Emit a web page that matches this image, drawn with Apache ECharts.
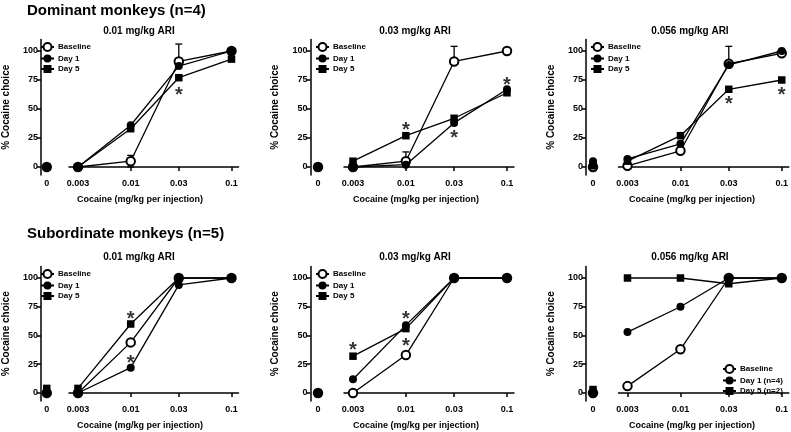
<!DOCTYPE html>
<html><head><meta charset="utf-8">
<script src="https://cdn.jsdelivr.net/npm/echarts@6/dist/echarts.min.js"></script>
<style>html,body{margin:0;padding:0;background:#fff}#c{width:791px;height:432px}</style>
</head><body><div id="c"></div>
<script>
// ---------- data ----------
const doses = [0.003, 0.01, 0.03, 0.1];
const xTickLabels = ['0.003', '0.01', '0.03', '0.1'];
const yTicks = [0, 25, 50, 75, 100];
const zeroLabel = ['0'];
const seriesNames = ['Baseline', 'Day 1', 'Day 5'];
const seriesNamesF = ['Baseline', 'Day 1 (n=4)', 'Day 5 (n=2)'];
const headings = ['Dominant monkeys (n=4)', 'Subordinate monkeys (n=5)'];
const panelTitles = ['0.01 mg/kg ARI', '0.03 mg/kg ARI', '0.056 mg/kg ARI'];
const xAxisTitle = 'Cocaine (mg/kg per injection)';
const yAxisTitle = '% Cocaine choice';

// Dominant, 0.01 mg/kg ARI   (zero values: [Baseline, Day 1, Day 5])
const domA_zero = [0, 0, 0];
const domA_base = [0, 5, 91, 100];
const domA_day1 = [0, 36, 87, 100];
const domA_day5 = [0, 33, 77, 93];
const domA_err = [[0.01, 0, 10], [0.03, 91, 106]];
const domA_stars = [[0.03, 66]];

// Dominant, 0.03 mg/kg ARI
const domB_zero = [0, 0, 0];
const domB_base = [0, 5, 91, 100];
const domB_day1 = [0, 2, 38, 67];
const domB_day5 = [5, 27, 42, 64];
const domB_err = [[0.01, 5, 13], [0.03, 91, 104]];
const domB_stars = [[0.01, 36], [0.03, 29], [0.1, 75]];

// Dominant, 0.056 mg/kg ARI
const domC_zero = [0, 5, 1];
const domC_base = [1, 14, 89, 98];
const domC_day1 = [7, 20, 88, 100];
const domC_day5 = [5, 27, 67, 75];
const domC_err = [[0.03, 89, 104]];
const domC_stars = [[0.03, 58], [0.1, 66]];

// Subordinate, 0.01 mg/kg ARI
const subD_zero = [0, 0, 4];
const subD_base = [0, 44, 100, 100];
const subD_day1 = [0, 22, 94, 100];
const subD_day5 = [4, 60, 100, 100];
const subD_err = [];
const subD_stars = [[0.01, 68], [0.01, 30]];

// Subordinate, 0.03 mg/kg ARI
const subE_zero = [0, 0, 0];
const subE_base = [0, 33, 100, 100];
const subE_day1 = [12, 59, 100, 100];
const subE_day5 = [32, 56, 100, 100];
const subE_err = [];
const subE_stars = [[0.003, 41], [0.01, 68], [0.01, 45]];

// Subordinate, 0.056 mg/kg ARI
const subF_zero = [0, 0, 3];
const subF_base = [6, 38, 100, 100];
const subF_day1 = [53, 75, 100, 100];
const subF_day5 = [100, 100, 95, 100];
const subF_err = [];
const subF_stars = [];

// ---------- build ----------
const panels = [
  {zero: domA_zero, vals: [domA_base, domA_day1, domA_day5], err: domA_err, stars: domA_stars, names: seriesNames},
  {zero: domB_zero, vals: [domB_base, domB_day1, domB_day5], err: domB_err, stars: domB_stars, names: seriesNames},
  {zero: domC_zero, vals: [domC_base, domC_day1, domC_day5], err: domC_err, stars: domC_stars, names: seriesNames},
  {zero: subD_zero, vals: [subD_base, subD_day1, subD_day5], err: subD_err, stars: subD_stars, names: seriesNames},
  {zero: subE_zero, vals: [subE_base, subE_day1, subE_day5], err: subE_err, stars: subE_stars, names: seriesNames},
  {zero: subF_zero, vals: [subF_base, subF_day1, subF_day5], err: subF_err, stars: subF_stars, names: seriesNamesF}
];

const FONT = "'Liberation Sans', Arial, sans-serif";
const yAxisX = [35, 310.5, 586];
const zeroX = [43, 318, 593];
const p0003 = [78, 353, 627.5];
const p01 = [231.5, 507, 782];
const y0px = [167, 393];
const unitPx = [1.16, 1.15];
const titleX = [139, 415, 690];
const titleY = [31, 257];
const xNameX = [140, 416, 692];
const xNameY = [200, 426];
const headY = [11, 234];
const legendPos = [
  {left: 40, top: 42}, {left: 315, top: 42}, {left: 590, top: 42},
  {left: 40, top: 269}, {left: 315, top: 269}, {left: 722, top: 364}
];
const YMIN = -7, YMAX = 110;
const symbols = ['emptyCircle', 'circle', 'rect'];
const symSizes = [8.5, 8, 7.5];
const LW = 1.3;

const grid = [], xAxis = [], yAxis = [], series = [], legend = [], graphic = [];

function fmtX(v) {
  const i = doses.findIndex(d => Math.abs(Math.log10(d) - Math.log10(v)) < 0.01);
  return i >= 0 ? xTickLabels[i] : '';
}

panels.forEach((P, p) => {
  const r = Math.floor(p / 3), c = p % 3;
  const top = y0px[r] - YMAX * unitPx[r];
  const height = (YMAX - YMIN) * unitPx[r];
  const ppd = (p01[c] - p0003[c]) / (Math.log10(0.1) - Math.log10(0.003));
  const xmin = Math.pow(10, Math.log10(0.003) - 9 / ppd);
  const xmax = Math.pow(10, Math.log10(0.1) + 7 / ppd);
  const zl = zeroX[c] - 3;
  grid.push({left: zl, top: top, width: 6, height: height});
  grid.push({left: p0003[c] - 9, top: top, width: (p01[c] - p0003[c]) + 16, height: height});
  const gz = 2 * p, gm = 2 * p + 1;
  xAxis.push({
    gridIndex: gz, type: 'category', data: zeroLabel, boundaryGap: true,
    axisLine: {show: true, lineStyle: {color: '#000', width: 1.5}},
    axisTick: {show: true, alignWithLabel: true, length: 4, lineStyle: {color: '#000', width: 1.5}},
    axisLabel: {color: '#000', fontFamily: FONT, fontWeight: 'bold', fontSize: 9, margin: 4},
    splitLine: {show: false}
  });
  xAxis.push({
    gridIndex: gm, type: 'log', min: xmin, max: xmax,
    axisLine: {show: true, lineStyle: {color: '#000', width: 1.5}},
    axisTick: {show: true, length: 4, customValues: doses, lineStyle: {color: '#000', width: 1.5}},
    axisLabel: {show: true, customValues: doses, formatter: fmtX, color: '#000', fontFamily: FONT, fontWeight: 'bold', fontSize: 9, margin: 4},
    minorTick: {show: false}, splitLine: {show: false}
  });
  yAxis.push({
    gridIndex: gz, type: 'value', min: YMIN, max: YMAX, offset: zl - yAxisX[c],
    name: yAxisTitle, nameLocation: 'middle', nameGap: 30, nameRotate: 90,
    nameTextStyle: {color: '#000', fontFamily: FONT, fontWeight: 'bold', fontSize: 10},
    axisLine: {show: true, lineStyle: {color: '#000', width: 1.5}},
    axisTick: {show: true, length: 4, customValues: yTicks, lineStyle: {color: '#000', width: 1.5}},
    axisLabel: {show: true, customValues: yTicks, color: '#000', fontFamily: FONT, fontWeight: 'bold', fontSize: 9, margin: 3},
    splitLine: {show: false}
  });
  yAxis.push({
    gridIndex: gm, type: 'value', min: YMIN, max: YMAX, show: false, splitLine: {show: false}
  });
  const ax = {gz: xAxis.length - 2, gm: xAxis.length - 1};
  if (P.err.length) {
    series.push({
      type: 'custom', xAxisIndex: ax.gm, yAxisIndex: ax.gm, z: 1, silent: true,
      data: P.err, encode: {x: 0, y: [1, 2]},
      renderItem: (params, api) => {
        const x = api.value(0), lo = api.value(1), hi = api.value(2);
        const a = api.coord([x, lo]), b = api.coord([x, hi]);
        const w = 3.5;
        const st = {stroke: '#000', lineWidth: LW};
        return {type: 'group', children: [
          {type: 'line', shape: {x1: a[0], y1: a[1], x2: b[0], y2: b[1]}, style: st},
          {type: 'line', shape: {x1: b[0] - w, y1: b[1], x2: b[0] + w, y2: b[1]}, style: st},
          {type: 'line', shape: {x1: a[0] - w, y1: a[1], x2: a[0] + w, y2: a[1]}, style: st}
        ]};
      }
    });
  }
  P.vals.forEach((vals, k) => {
    series.push({
      type: 'line', name: P.names[k], xAxisIndex: ax.gm, yAxisIndex: ax.gm, z: 2 + k,
      data: doses.map((d, i) => [d, vals[i]]),
      symbol: symbols[k], symbolSize: symSizes[k], showAllSymbol: true,
      lineStyle: {color: '#000', width: LW},
      itemStyle: {color: '#000', borderColor: '#000', borderWidth: k === 0 ? LW : 0},
      emphasis: {disabled: true}, silent: true
    });
  });
  P.zero.forEach((v, k) => {
    series.push({
      type: 'scatter', name: 'zero-' + k, xAxisIndex: ax.gz, yAxisIndex: ax.gz, z: 2 + k,
      data: [[zeroLabel[0], v]],
      symbol: symbols[k], symbolSize: symSizes[k],
      itemStyle: {color: '#000', borderColor: '#000', borderWidth: k === 0 ? LW : 0, opacity: 1},
      emphasis: {disabled: true}, silent: true
    });
  });
  if (P.stars.length) {
    series.push({
      type: 'scatter', name: 'stars', xAxisIndex: ax.gm, yAxisIndex: ax.gm, z: 6,
      data: P.stars, symbol: 'circle', symbolSize: 1,
      itemStyle: {color: 'rgba(0,0,0,0)'},
      label: {show: true, position: 'inside', formatter: '*', color: '#000', fontFamily: FONT, fontWeight: 'bold', fontSize: 20, offset: [0, 5]},
      emphasis: {disabled: true}, silent: true
    });
  }
  legend.push({
    orient: 'vertical', left: legendPos[p].left, top: legendPos[p].top, padding: 0,
    itemWidth: 13, itemHeight: 10, itemGap: 2.5, selectedMode: false,
    data: P.names,
    textStyle: {color: '#000', fontFamily: FONT, fontWeight: 'bold', fontSize: 8, padding: [0, 0, 0, -1]}
  });
  graphic.push({type: 'text', x: titleX[c], y: titleY[r], style: {text: panelTitles[c], fill: '#000', font: 'bold 10px ' + FONT, textAlign: 'center', textVerticalAlign: 'middle'}});
  graphic.push({type: 'text', x: xNameX[c], y: xNameY[r], style: {text: xAxisTitle, fill: '#000', font: 'bold 9px ' + FONT, textAlign: 'center', textVerticalAlign: 'middle'}});
});
headings.forEach((h, r) => {
  graphic.push({type: 'text', x: 27, y: headY[r], style: {text: h, fill: '#000', font: 'bold 15px ' + FONT, textAlign: 'left', textVerticalAlign: 'middle'}});
});

const chart = echarts.init(document.getElementById('c'), null, {renderer: 'canvas'});
chart.setOption({
  animation: false, backgroundColor: '#fff',
  grid, xAxis, yAxis, series, legend, graphic
});
</script></body></html>
